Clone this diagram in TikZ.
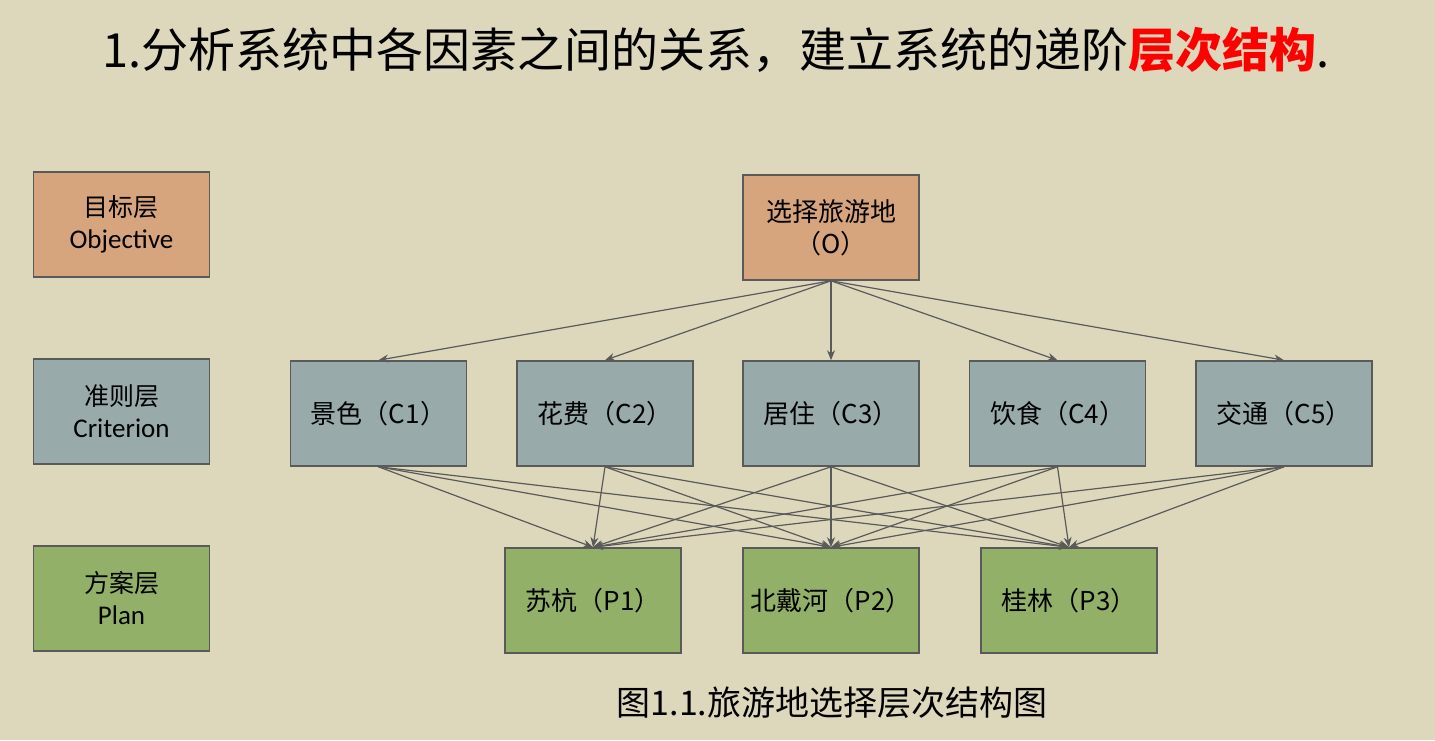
\documentclass[tikz,border=0pt]{standalone}
\usepackage{fontspec}
\setmainfont{Carlito}
\newfontfamily\cjk{Noto Sans CJK SC}
\usetikzlibrary{arrows.meta}
\definecolor{bg}{HTML}{DDD8BC}
\definecolor{orng}{HTML}{D6A57E}
\definecolor{slate}{HTML}{98AAAA}
\definecolor{grn}{HTML}{93B068}
\definecolor{edge}{HTML}{5A5A5A}
\tikzset{
 bx/.style={draw=edge,line width=0.8pt,minimum width=88pt,minimum height=52.5pt,inner sep=0pt,align=center,font=\cjk\fontsize{13}{16}\selectfont},
 lbx/.style={bx,font=\cjk\fontsize{12.5}{16}\selectfont},
 arr/.style={draw=edge,line width=0.6pt,-{Stealth[length=5pt,width=4pt]}}
}
\newcommand{\lat}[1]{{\normalfont\fontsize{13.5}{16}\selectfont #1}}
\begin{document}
\begin{tikzpicture}[x=0.5pt,y=-0.5pt]
\fill[bg] (0,0) rectangle (1435,740);
\useasboundingbox (0,0) rectangle (1435,740);
\node[anchor=west,font=\cjk\fontsize{23.5}{26}\selectfont] (title) at (95,50) {1.分析系统中各因素之间的关系，建立系统的递阶{\color{red}\bfseries 层次结构}.};
\node[lbx,fill=orng] (L1) at (121.5,224.5) {目标层\\\lat{Objective}};
\node[lbx,fill=slate] (L2) at (121.5,411.5) {准则层\\\lat{Criterion}};
\node[lbx,fill=grn] (L3) at (121.5,598.5) {方案层\\\lat{Plan}};
\node[bx,fill=orng] (O) at (831,227.5) {选择旅游地\\（O）};
\node[bx,fill=slate] (C1) at (378.5,413.5) {景色（C1）};
\node[bx,fill=slate] (C2) at (605,413.5) {花费（C2）};
\node[bx,fill=slate] (C3) at (831,413.5) {居住（C3）};
\node[bx,fill=slate] (C4) at (1057.5,413.5) {饮食（C4）};
\node[bx,fill=slate] (C5) at (1284,413.5) {交通（C5）};
\node[bx,fill=grn] (P1) at (593,600.5) {苏杭（P1）};
\node[bx,fill=grn] (P2) at (831,600.5) {北戴河（P2）};
\node[bx,fill=grn] (P3) at (1069,600.5) {桂林（P3）};
\foreach \c in {C1,C2,C3,C4,C5}{
  \draw[arr] (O.south) -- (\c.north);
  \foreach \p in {P1,P2,P3}{\draw[arr] (\c.south) -- (\p.north);}
}
\node[font=\cjk\fontsize{17}{20}\selectfont] (cap) at (832,703) {图1.1.旅游地选择层次结构图};
\end{tikzpicture}
\end{document}
